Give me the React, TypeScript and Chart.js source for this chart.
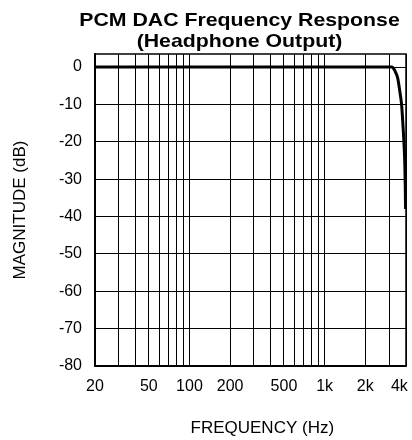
import React, { useEffect, useRef } from "react";
import { Chart, registerables } from "chart.js";

Chart.register(...registerables);

const TITLE_LINES = ["PCM DAC Frequency Response", "(Headphone Output)"];
const X_TITLE = "     FREQUENCY (Hz)";
const Y_TITLE = "MAGNITUDE (dB)";

const FREQ_HZ = [20, 100, 1000, 3000, 3150, 3250, 3350, 3470, 3600, 3710, 3790, 3860, 3920, 3950, 3970];
const MAG_DB = [0, 0, 0, 0, 0, -0.5, -1.4, -2.9, -6.5, -10, -15, -20, -26, -32, -38];

const X_GRID = [20, 30, 40, 50, 60, 70, 80, 90, 100, 200, 300, 400, 500, 600, 700, 800, 900, 1000, 2000, 3000, 4000];
const X_LABEL_VALUES = [20, 50, 100, 200, 500, 1000, 2000, 4000];
const X_LABEL_TEXT = ["20", "50", "100", "200", "500", "1k", "2k", "4k   "];
const Y_TICKS = [-80, -70, -60, -50, -40, -30, -20, -10, 0];

const X_MIN = 20;
const X_MAX = 4000;
const Y_MIN = -80;
const Y_MAX = 3.5;

const FONT = '"Liberation Sans", Arial, Helvetica, sans-serif';

const framePlugin = {
  id: "frame",
  beforeDatasetsDraw(chart: any) {
    const { ctx, chartArea } = chart;
    ctx.save();
    ctx.strokeStyle = "#000";
    ctx.lineWidth = 1.5;
    ctx.strokeRect(chartArea.left, chartArea.top, chartArea.right - chartArea.left, chartArea.bottom - chartArea.top);
    ctx.restore();
  },
};

const titlePlugin = {
  id: "twoLineTitle",
  afterDraw(chart: any) {
    const { ctx, chartArea } = chart;
    ctx.save();
    ctx.fillStyle = "#000";
    ctx.font = `bold 19px ${FONT}`;
    ctx.textAlign = "center";
    ctx.textBaseline = "alphabetic";
    const cx = (chartArea.left + chartArea.right) / 2 - 11;
    const baselines = [26, 47];
    TITLE_LINES.forEach((t, i) => {
      ctx.save();
      ctx.translate(cx, baselines[i]);
      ctx.scale(1.12, 1);
      ctx.fillText(t, 0, 0);
      ctx.restore();
    });
    ctx.restore();
  },
};

export default function App() {
  const canvasRef = useRef<HTMLCanvasElement | null>(null);

  useEffect(() => {
    document.body.style.margin = "0";
    const canvas = canvasRef.current;
    if (!canvas) return;
    const chart = new Chart(canvas, {
      type: "line",
      data: {
        datasets: [
          {
            data: FREQ_HZ.map((f, i) => ({ x: f, y: MAG_DB[i] })),
            borderColor: "#000",
            borderWidth: 3,
            pointRadius: 0,
            fill: false,
            cubicInterpolationMode: "monotone",
          },
        ],
      },
      options: {
        animation: false,
        responsive: true,
        maintainAspectRatio: false,
        layout: { padding: { top: 54, right: 6, left: 0, bottom: 0 } },
        plugins: {
          legend: { display: false },
          title: { display: false },
          tooltip: { enabled: false },
        },
        scales: {
          x: {
            type: "logarithmic",
            min: X_MIN,
            max: X_MAX,
            afterBuildTicks: (s: any) => {
              s.ticks = X_GRID.map((v) => ({ value: v }));
            },
            afterFit: (s: any) => {
              s.height = 74;
              s.paddingRight = 0;
            },
            ticks: {
              autoSkip: false,
              maxRotation: 0,
              minRotation: 0,
              padding: 11,
              color: "#000",
              font: { size: 16, family: FONT },
              callback: (v: any) => {
                const idx = X_LABEL_VALUES.indexOf(Number(v));
                return idx >= 0 ? X_LABEL_TEXT[idx] : "";
              },
            },
            grid: { color: "#000", lineWidth: 1, drawTicks: false },
            border: { color: "#000", width: 1.5 },
            title: {
              display: true,
              text: X_TITLE,
              color: "#000",
              font: { size: 17, family: FONT },
              padding: { top: 0, bottom: 1 },
            },
          },
          y: {
            type: "linear",
            min: Y_MIN,
            max: Y_MAX,
            afterBuildTicks: (s: any) => {
              s.ticks = Y_TICKS.map((v) => ({ value: v }));
            },
            afterFit: (s: any) => {
              s.width = 95;
            },
            ticks: {
              padding: 13,
              color: "#000",
              font: { size: 16, family: FONT },
            },
            grid: { color: "#000", lineWidth: 1, drawTicks: false },
            border: { color: "#000", width: 1.5 },
            title: {
              display: true,
              text: Y_TITLE,
              color: "#000",
              font: { size: 17, family: FONT },
              padding: { top: 10, bottom: 0 },
            },
          },
        },
      },
      plugins: [framePlugin, titlePlugin],
    } as any);
    return () => chart.destroy();
  }, []);

  return (
    <div style={{ position: "relative", width: 412, height: 440 }}>
      <canvas ref={canvasRef} />
    </div>
  );
}
